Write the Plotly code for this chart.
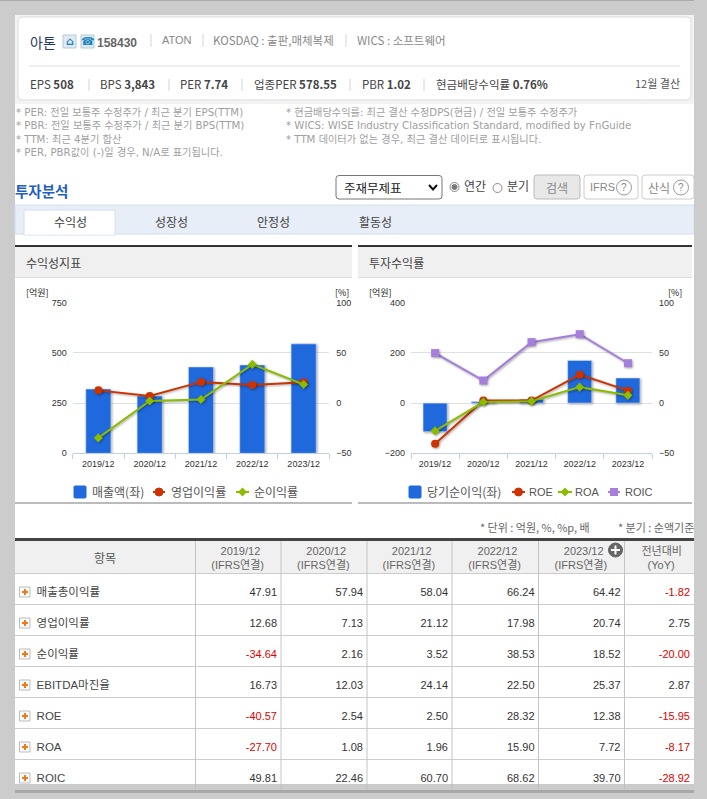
import plotly.graph_objects as go

# data
periods = ['2019/12', '2020/12', '2021/12', '2022/12', '2023/12']
revenue = [320, 285, 430, 440, 545]
net_income = [-114, 6, 15, 170, 100]
gross_margin = [47.91, 57.94, 58.04, 66.24, 64.42]
op_margin = [12.68, 7.13, 21.12, 17.98, 20.74]
net_margin = [-34.64, 2.16, 3.52, 38.53, 18.52]
ebitda_margin = [16.73, 12.03, 24.14, 22.50, 25.37]
roe = [-40.57, 2.54, 2.50, 28.32, 12.38]
roa = [-27.70, 1.08, 1.96, 15.90, 7.72]
roic = [49.81, 22.46, 60.70, 68.62, 39.70]
yoy = [-1.82, 2.75, -20.00, 2.87, -15.95, -8.17, -28.92]
row_labels = ['매출총이익률', '영업이익률', '순이익률', 'EBITDA마진율', 'ROE', 'ROA', 'ROIC']
table_rows = [gross_margin, op_margin, net_margin, ebitda_margin, roe, roa, roic]

W, H = 707, 799
KR = 'Noto Sans CJK KR'
NUM = 'Liberation Sans, Noto Sans CJK KR'
WIDE = 'DejaVu Sans, Noto Sans CJK KR'
BLUE, RED, GREEN, PURPLE = '#2069dd', '#cc3300', '#8bbc00', '#a67edb'

shapes = []
notes = []


def px(x):
    return x / W


def py(y):
    return 1 - y / H


def rect(x0, y0, x1, y1, fill, line=None, layer='below', radius=0):
    s = dict(type='rect', xref='paper', yref='paper', x0=px(x0), x1=px(x1), y0=py(y0), y1=py(y1),
             fillcolor=fill, line=dict(width=1 if line else 0, color=line or fill), layer=layer)
    if radius:
        r = radius
        s = dict(type='path', xref='paper', yref='paper', fillcolor=fill, layer=layer,
                 line=dict(width=1, color=line or fill),
                 path=f'M {px(x0+r)} {py(y0)} L {px(x1-r)} {py(y0)} Q {px(x1)} {py(y0)} {px(x1)} {py(y0+r)} '
                      f'L {px(x1)} {py(y1-r)} Q {px(x1)} {py(y1)} {px(x1-r)} {py(y1)} '
                      f'L {px(x0+r)} {py(y1)} Q {px(x0)} {py(y1)} {px(x0)} {py(y1-r)} '
                      f'L {px(x0)} {py(y0+r)} Q {px(x0)} {py(y0)} {px(x0+r)} {py(y0)} Z')
    shapes.append(s)


def hline(x0, x1, y, color, width=1, layer='above'):
    shapes.append(dict(type='line', xref='paper', yref='paper', x0=px(x0), x1=px(x1), y0=py(y), y1=py(y),
                       line=dict(color=color, width=width), layer=layer))


def vline(x, y0, y1, color, width=1, layer='above'):
    shapes.append(dict(type='line', xref='paper', yref='paper', x0=px(x), x1=px(x), y0=py(y0), y1=py(y1),
                       line=dict(color=color, width=width), layer=layer))


def circle(cx, cy, r, fill, line):
    shapes.append(dict(type='circle', xref='paper', yref='paper', x0=px(cx-r), x1=px(cx+r), y0=py(cy-r), y1=py(cy+r),
                       fillcolor=fill, line=dict(color=line, width=1), layer='above'))


def diamond(cx, cy, r, fill):
    shapes.append(dict(type='path', xref='paper', yref='paper', fillcolor=fill, line=dict(width=0), layer='above',
                       path=f'M {px(cx-r)} {py(cy)} L {px(cx)} {py(cy-r)} L {px(cx+r)} {py(cy)} L {px(cx)} {py(cy+r)} Z'))


def text(x, y, s, size=11, color='#666', anchor='left', font=KR):
    notes.append(dict(xref='paper', yref='paper', x=px(x), y=py(y), text=s, showarrow=False,
                      xanchor=anchor, yanchor='middle', align=anchor, font=dict(size=size, color=color, family=font),
                      borderpad=0, borderwidth=0))


# page frame
rect(15, 15, 694, 793, '#ffffff')
rect(15, 15, 694, 104, '#f3f3f3')
rect(18, 17, 691, 100, '#ffffff', '#dddddd', radius=4)
hline(0, 707, 0.5, '#aaaaaa')
hline(29, 680, 66, '#dddddd')

# company card
text(30, 42, '아톤', 14, '#1f3864')
for x0, glyph in ((63, '⌂'), (81, '☎')):
    rect(x0, 35, x0+13, 48, '#dfe9f2', '#b9c7d4', layer='above')
    text(x0+6.5, 41.5, f'<b>{glyph}</b>', 11, '#1a86bd', 'center', font='DejaVu Sans')
text(97, 43, '<b>158430</b>', 12, '#666', font=NUM)
for x, y0, y1 in [(151, 34, 47), (203, 34, 47), (346, 34, 47),
                  (89, 79, 91), (169, 79, 91), (242, 79, 91), (350, 79, 91), (424, 79, 91)]:
    vline(x, y0, y1, '#d5d5d5')
text(162, 40, 'ATON', 11, '#888', font=NUM)
text(213, 40, 'KOSDAQ : 출판,매체복제', 11.5, '#888')
text(357, 40, 'WICS : 소프트웨어', 11.5, '#888')
card_stats = [(30, 'EPS', '508'), (100, 'BPS', '3,843'), (180, 'PER', '7.74'), (254, '업종PER', '578.55'),
              (362, 'PBR', '1.02'), (436, '현금배당수익률', '0.76%')]
for x, label, val in card_stats:
    text(x, 84, f'{label} <b>{val}</b>', 11.5, '#444')
text(680, 83, '12월 결산', 11, '#555', 'right')

# footnotes
left_notes = ['* PER: 전일 보통주 수정주가 / 최근 분기 EPS(TTM)', '* PBR: 전일 보통주 수정주가 / 최근 분기 BPS(TTM)',
              '* TTM: 최근 4분기 합산', '* PER, PBR값이 (-)일 경우, N/A로 표기됩니다.']
right_notes = ['* 현금배당수익률: 최근 결산 수정DPS(현금) / 전일 보통주 수정주가',
               '* WICS: WISE Industry Classification Standard, modified by FnGuide',
               '* TTM 데이터가 없는 경우, 최근 결산 데이터로 표시됩니다.']
text(16, 132.5, '<br>'.join(left_notes), 10.2, '#a0a0a0', font=WIDE)
text(286, 126, '<br>'.join(right_notes), 10.2, '#a0a0a0', font=WIDE)

# search bar
text(15, 190, '<b>투자분석</b>', 14.5, '#1f5fbf')
rect(336, 175.5, 442, 199, '#ffffff', '#777777', layer='above', radius=3)
text(344, 187.5, '주재무제표', 12.5, '#222')
shapes.append(dict(type='path', xref='paper', yref='paper', layer='above', line=dict(color='#111111', width=2),
                   path=f'M {px(429)} {py(185)} L {px(433)} {py(189.5)} L {px(437)} {py(185)}'))
circle(454.5, 187, 4.5, '#ffffff', '#888888')
circle(454.5, 187, 2.5, '#777777', '#777777')
text(464, 186, '연간', 12, '#444')
circle(497.5, 188, 4.5, '#ffffff', '#888888')
text(507, 186, '분기', 12, '#444')
rect(534, 175, 580, 199, '#e8e8e8', '#bbbbbb', layer='above', radius=3)
text(557, 187, '검색', 12, '#888', 'center')
rect(584, 175, 638, 199, '#ffffff', '#cccccc', layer='above', radius=3)
text(590, 187, 'IFRS', 11, '#888', font=NUM)
circle(624, 187.5, 7.5, '#ffffff', '#999999')
text(624, 187.5, '?', 10, '#888', 'center', font=NUM)
rect(642, 175, 694, 199, '#ffffff', '#cccccc', layer='above', radius=3)
text(648, 187, '산식', 12, '#888')
circle(681, 187.5, 7.5, '#ffffff', '#999999')
text(681, 187.5, '?', 10, '#888', 'center', font=NUM)

# tabs
rect(15, 205, 694, 234, '#e8eef8', '#d3deec')
rect(24, 210, 115, 235, '#ffffff', '#d3deec')
hline(24.5, 114.5, 234, '#ffffff', layer='below')
for x, s in [(70, '수익성'), (171, '성장성'), (273, '안정성'), (375, '활동성')]:
    text(x, 221, s, 12, '#444', 'center')

# chart panels
for x0, x1, title in [(15, 352, '수익성지표'), (358, 692, '투자수익률')]:
    rect(x0, 247, x1, 277, '#f0f0f0')
    hline(x0, x1, 246, '#333333', 2)
    hline(x0, x1, 277.5, '#dddddd')
    hline(x0, x1, 503, '#bbbbbb', 2)
    text(x0+11, 262, title, 12, '#444')

for x, anchor, s in [(26, 'left', '[억원]'), (349, 'right', '[%]'), (369, 'left', '[억원]'), (682, 'right', '[%]')]:
    text(x, 292.5, s, 9, '#222', anchor)

fig = go.Figure()

# left chart
fig.add_trace(go.Bar(x=periods, y=revenue, name='매출액(좌)', marker_color=BLUE, width=0.49, xaxis='x', yaxis='y'))
fig.add_trace(go.Scatter(x=periods, y=op_margin, name='영업이익률', mode='lines+markers', xaxis='x', yaxis='y2',
                         line=dict(color=RED, width=2), marker=dict(symbol='circle', size=8, color=RED)))
fig.add_trace(go.Scatter(x=periods, y=net_margin, name='순이익률', mode='lines+markers', xaxis='x', yaxis='y2',
                         line=dict(color=GREEN, width=2), marker=dict(symbol='diamond', size=7, color=GREEN)))

# right chart
fig.add_trace(go.Bar(x=periods, y=net_income, name='당기순이익(좌)', marker_color=BLUE, width=0.5, xaxis='x2', yaxis='y3'))
fig.add_trace(go.Scatter(x=periods, y=roe, name='ROE', mode='lines+markers', xaxis='x2', yaxis='y4',
                         line=dict(color=RED, width=2), marker=dict(symbol='circle', size=8, color=RED)))
fig.add_trace(go.Scatter(x=periods, y=roa, name='ROA', mode='lines+markers', xaxis='x2', yaxis='y4',
                         line=dict(color=GREEN, width=2), marker=dict(symbol='diamond', size=7, color=GREEN)))
fig.add_trace(go.Scatter(x=periods, y=roic, name='ROIC', mode='lines+markers', xaxis='x2', yaxis='y4',
                         line=dict(color=PURPLE, width=2), marker=dict(symbol='square', size=8, color=PURPLE)))

# legends are drawn by hand, the plotly ones cannot be packed this tightly
LEG_Y = 492
rect(74, LEG_Y-6, 86, LEG_Y+6, BLUE, layer='above', radius=1)
text(92, LEG_Y, '매출액(좌)', 12, '#555')
hline(153, 165, LEG_Y, RED, 2)
circle(159, LEG_Y, 4, RED, RED)
text(171, LEG_Y, '영업이익률', 12, '#555')
hline(236, 249, LEG_Y, GREEN, 2)
diamond(242.5, LEG_Y, 4.5, GREEN)
text(254, LEG_Y, '순이익률', 12, '#555')

rect(409, LEG_Y-6, 421, LEG_Y+6, BLUE, layer='above', radius=1)
text(427, LEG_Y, '당기순이익(좌)', 12, '#555')
hline(512, 525, LEG_Y, RED, 2)
circle(518.5, LEG_Y, 4, RED, RED)
text(529, LEG_Y, 'ROE', 11, '#555', font=NUM)
hline(558, 572, LEG_Y, GREEN, 2)
diamond(565, LEG_Y, 4.5, GREEN)
text(575, LEG_Y, 'ROA', 11, '#555', font=NUM)
hline(608, 620, LEG_Y, PURPLE, 2)
rect(610, LEG_Y-4, 618, LEG_Y+4, PURPLE, layer='above')
text(625, LEG_Y, 'ROIC', 11, '#555', font=NUM)

# table, shifted 4px right so the fixed cell padding lands where the reference has it
col_edges = [19, 199.5, 285, 371, 456, 542.5, 628.5, 698]
# the table lines up multi-line text on its left end, so the short line gets padded by hand
nb = '\u00a0'
header = [''] + [f'{nb*3}{p}<br>(IFRS연결){nb*3}' for p in periods] + [f'전년대비{nb}<br>{nb*2}(YoY)']
columns = [[nb*3 + s for s in row_labels]]
colors = [['#444444'] * len(row_labels)]
for i in range(len(periods)):
    col = [r[i] for r in table_rows]
    columns.append([f'{v:.2f}' for v in col])
    colors.append(['#e00000' if v < 0 else '#333333' for v in col])
columns.append([f'{v:.2f}' for v in yoy])
colors.append(['#e00000' if v < 0 else '#333333' for v in yoy])

fig.add_trace(go.Table(
    domain=dict(x=[px(19), px(698)], y=[py(786), py(537)]),
    columnwidth=[col_edges[i+1] - col_edges[i] for i in range(len(col_edges)-1)],
    header=dict(values=header, height=32, align='center', fill_color='rgba(0,0,0,0)',
                line_width=0, font=dict(size=11, color='#666', family=NUM)),
    cells=dict(values=columns, height=31, align=['left'] + ['right']*6, fill_color='rgba(0,0,0,0)',
               line_width=0, font=dict(size=[11.5] + [11]*6, color=colors, family=NUM)),
))

# table chrome
text(590, 527, '* 단위 : 억원, %, %p, 배', 11, '#666', 'right')
text(694, 527, '* 분기 : 순액기준', 11, '#666', 'right')
text(105, 557.5, '항목', 12, '#555', 'center')
rect(15, 541, 694, 573, '#f0f0f0')
hline(15, 694, 539.5, '#444444', 3)
for y in [573.5, 604.5, 635.5, 666.5, 697.5, 728.5, 759.5]:
    hline(15, 694, y, '#cccccc')
for x in col_edges[1:-1]:
    vline(x-4, 541, 790, '#c4c4c4')
for y in [588, 619, 650, 681, 712, 743, 774]:
    yy = y + 4
    rect(19.5, yy-5, 30, yy+5, '#fbfbfb', '#bbbbbb', layer='above')
    hline(22, 28, yy, '#ef7a1a', 2)
    vline(25, yy-3, yy+3, '#ef7a1a', 2)
circle(615.5, 550, 7, '#666666', '#666666')
hline(611, 620, 550, '#ffffff', 2)
vline(615.5, 545.5, 554.5, '#ffffff', 2)

# gray page around everything, on top of the table
rect(15, 784, 694, 790, 'rgba(190,190,190,0.8)', layer='above')
rect(15, 790, 694, 793, '#a8a8a8', layer='above')
rect(694, 0, 707, 799, '#cccccc', layer='above')

tick_font = dict(size=9, color='#333', family=NUM)


def x_axis(left, right, anchor):
    return dict(domain=[px(left), px(right)], anchor=anchor, type='category', tickfont=tick_font, tickangle=0,
                showgrid=False, zeroline=False, showline=True, linecolor='#c0d0e0', linewidth=1,
                ticks='outside', ticklen=5, tickcolor='#c0d0e0', tickson='boundaries', ticklabelstandoff=2)


y_dom = [py(453.3), py(302.7)]


def y_left(rng, step, anchor):
    return dict(domain=y_dom, range=rng, dtick=step, anchor=anchor, tickfont=tick_font, showgrid=True,
                gridcolor='#dde1e6', gridwidth=1, zeroline=False, ticks='', showline=False, ticklabelstandoff=5)


def y_right(rng, step, anchor, over):
    return dict(domain=y_dom, range=rng, dtick=step, anchor=anchor, overlaying=over, side='right', tickfont=tick_font,
                showgrid=False, zeroline=False, ticks='', showline=False, ticklabelstandoff=6)


fig.update_layout(
    width=W, height=H, margin=dict(l=0, r=0, t=0, b=0, autoexpand=False), paper_bgcolor='#cccccc',
    plot_bgcolor='rgba(0,0,0,0)', barmode='overlay', shapes=shapes, annotations=notes, font=dict(family=KR),
    showlegend=False,
    xaxis=x_axis(72.7, 329.3, 'y'), yaxis=y_left([0, 750], 250, 'x'), yaxis2=y_right([-50, 100], 50, 'x', 'y'),
    xaxis2=x_axis(411, 652, 'y3'), yaxis3=y_left([-200, 400], 200, 'x2'), yaxis4=y_right([-50, 100], 50, 'x2', 'y3'),
)

# zero page margin and the soft shadow the original chart library puts on its marks
post = """
document.body.style.margin='0';
document.body.style.overflow='hidden';
document.querySelectorAll('.barlayer .point path, .scatterlayer .lines path, .scatterlayer .points path').forEach(function(p){
  p.style.filter='drop-shadow(1px 1px 1px rgba(0,0,0,0.35))';
});
"""
fig.write_html('out.html', post_script=post, config={'displayModeBar': False})
